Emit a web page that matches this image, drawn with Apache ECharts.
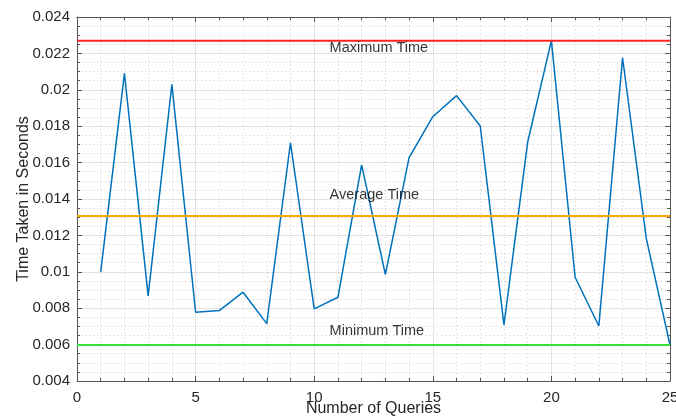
<!DOCTYPE html>
<html>
<head>
<meta charset="utf-8">
<script src="https://cdn.jsdelivr.net/npm/echarts@6/dist/echarts.min.js"></script>
<style>
html,body{margin:0;padding:0;background:#fff;}
#main{width:676px;height:418px;}
</style>
</head>
<body>
<div id="main"></div>
<script>
// data
var queries = [1,2,3,4,5,6,7,8,9,10,11,12,13,14,15,16,17,18,19,20,21,22,23,24,25];
var times = [0.0100,0.0209,0.00868,0.0203,0.00778,0.00787,0.00888,0.00715,0.01709,0.00796,
             0.0086,0.01587,0.00985,0.01627,0.01852,0.01968,0.01801,0.00708,0.01713,0.0227,
             0.0097,0.00702,0.02176,0.01184,0.00598];
var refNames = ['Maximum Time','Average Time','Minimum Time'];
var refValues = [0.0227, 0.01306, 0.00598];
var refColors = ['#ff2020','#ffa800','#33e033'];
var xTicks = [0,5,10,15,20,25];
var yTicks = [0.004,0.006,0.008,0.01,0.012,0.014,0.016,0.018,0.02,0.022,0.024];

// where the texts sit (data coords)
var labelX = 10.65;
var labelY = [0.0223, 0.01422, 0.00675];

var font = 'Liberation Sans, Arial, Helvetica, sans-serif';
var boxColor = '#555';

function fmtY(v){
	var s = String(Math.round(v*1000)/1000);
	return s;
}

var myChart = echarts.init(document.getElementById('main'));

var xBase = {
	type:'value', min:xTicks[0], max:xTicks[xTicks.length-1], interval:5,
	axisLine:{show:true, onZero:false, lineStyle:{color:boxColor, width:1}},
	axisTick:{show:true, inside:true, length:5, lineStyle:{color:boxColor}},
	minorTick:{show:true, splitNumber:5, length:3, lineStyle:{color:boxColor}},
};
var yBase = {
	type:'value', min:yTicks[0], max:yTicks[yTicks.length-1], interval:0.002,
	axisLine:{show:true, onZero:false, lineStyle:{color:boxColor, width:1}},
	axisTick:{show:true, inside:true, length:5, lineStyle:{color:boxColor}},
	minorTick:{show:true, splitNumber:4, length:3, lineStyle:{color:boxColor}},
};

var series = [];
series.push({
	name:'time', type:'line', xAxisIndex:0, yAxisIndex:0,
	data: queries.map(function(q,i){ return [q, times[i]]; }),
	showSymbol:false, symbol:'none',
	lineStyle:{color:'#0072bd', width:1.5},
	z:3
});
for (var i=0;i<refValues.length;i++){
	series.push({
		name:refNames[i], type:'line', xAxisIndex:0, yAxisIndex:0,
		data:[[xTicks[0],refValues[i]],[xTicks[xTicks.length-1],refValues[i]]],
		symbol:'none',
		lineStyle:{color:refColors[i], width:2},
		z:4
	});
}
series.push({
	type:'scatter', xAxisIndex:0, yAxisIndex:0,
	symbolSize:0,
	data: refNames.map(function(n,i){ return {value:[labelX, labelY[i]], name:n}; }),
	label:{show:true, position:'right', distance:0, formatter:'{b}',
		color:'#000', fontSize:14.5, fontFamily:font},
	silent:true, z:5
});

var option = {
	animation:false,
	backgroundColor:'#fff',
	grid:{left:77, right:6, top:17, bottom:37, containLabel:false, outerBoundsMode:'none'},
	xAxis:[
		Object.assign({}, xBase, {
			position:'bottom',
			name:'Number of Queries', nameLocation:'middle', nameGap:20, nameMoveOverlap:false,
			nameTextStyle:{color:'#262626', fontSize:16, fontFamily:font},
			axisLabel:{color:'#262626', fontSize:15, fontFamily:font, margin:9, showMaxLabel:true},
			splitLine:{show:true, lineStyle:{color:'#e2e2e2', width:1}},
			minorSplitLine:{show:true, lineStyle:{color:'#cccccc', width:1, type:[1,3]}}
		}),
		Object.assign({}, xBase, {
			position:'top', axisLabel:{show:false},
			splitLine:{show:false}
		})
	],
	yAxis:[
		Object.assign({}, yBase, {
			position:'left',
			name:'Time Taken in Seconds', nameLocation:'middle', nameGap:45, nameMoveOverlap:false,
			nameTextStyle:{color:'#262626', fontSize:16, fontFamily:font},
			axisLabel:{color:'#262626', fontSize:15, fontFamily:font, margin:7, formatter:fmtY},
			splitLine:{show:true, lineStyle:{color:'#e2e2e2', width:1}},
			minorSplitLine:{show:true, lineStyle:{color:'#cccccc', width:1, type:[1,3]}}
		}),
		Object.assign({}, yBase, {
			position:'right', axisLabel:{show:false},
			splitLine:{show:false}
		})
	],
	series:series
};
myChart.setOption(option);
</script>
</body>
</html>
